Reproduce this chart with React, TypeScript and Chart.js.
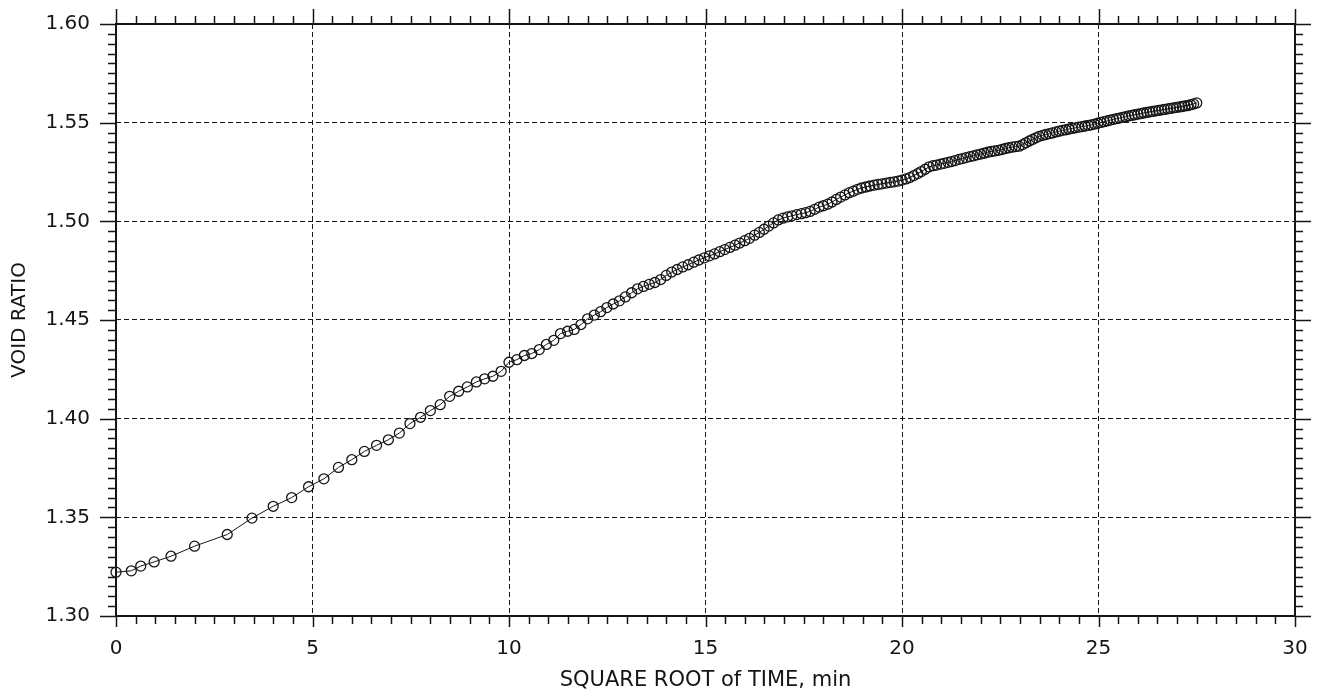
import React, { useEffect, useRef } from "react";
import { Chart, registerables } from "chart.js";

Chart.register(...registerables);

// square root of elapsed time (sqrt min)
const sqrtTime: number[] = [
  0, 0.39, 0.63, 0.97, 1.4,
  2.0, 2.83, 3.46, 4.0, 4.47, 4.9, 5.29, 5.66, 6.0, 6.32,
  6.63, 6.93, 7.21, 7.48, 7.75, 8.0, 8.25, 8.49, 8.72, 8.94,
  9.17, 9.38, 9.59, 9.8, 10.0, 10.2, 10.39, 10.58, 10.77, 10.95,
  11.14, 11.31, 11.49, 11.66,
  11.83, 12.0, 12.17, 12.33, 12.49, 12.65, 12.81, 12.96, 13.12, 13.27,
  13.42, 13.57, 13.71, 13.86, 14.0, 14.14, 14.28, 14.42, 14.56, 14.7,
  14.83, 14.97, 15.1, 15.23, 15.36, 15.49, 15.62, 15.75, 15.87, 16.0,
  16.12, 16.25, 16.37, 16.49, 16.61, 16.73, 16.85, 16.97, 17.09, 17.2,
  17.32, 17.44, 17.55, 17.66, 17.78, 17.89, 18.0, 18.11, 18.22, 18.33,
  18.44, 18.55, 18.66, 18.76, 18.87, 18.97, 19.08, 19.18, 19.29, 19.39,
  19.49, 19.6, 19.7, 19.8, 19.9, 20.0, 20.1, 20.2, 20.3, 20.4,
  20.49, 20.59, 20.69, 20.79, 20.88, 20.98, 21.07, 21.17, 21.26, 21.35,
  21.45, 21.54, 21.63, 21.73, 21.82, 21.91, 22.0, 22.09, 22.18, 22.27,
  22.36, 22.45, 22.54, 22.63, 22.72, 22.8, 22.89, 22.98, 23.07, 23.15,
  23.24, 23.32, 23.41, 23.49, 23.58, 23.66, 23.75, 23.83, 23.92, 24.0,
  24.08, 24.17, 24.25, 24.33, 24.41, 24.49, 24.58, 24.66, 24.74, 24.82,
  24.9, 24.98, 25.06, 25.14, 25.22, 25.3, 25.38, 25.46, 25.53, 25.61,
  25.69, 25.77, 25.85, 25.92, 26.0, 26.08, 26.15, 26.23, 26.31, 26.38,
  26.46, 26.53, 26.61, 26.68, 26.76, 26.83, 26.91, 26.98, 27.06, 27.13,
  27.2, 27.28, 27.35, 27.42, 27.5,
];

const voidRatio: number[] = [
  1.3222, 1.3229, 1.3253, 1.3274, 1.3303,
  1.3354, 1.3413, 1.3496, 1.3556, 1.36, 1.3655, 1.3695, 1.3753, 1.3792, 1.3834,
  1.3865, 1.3893, 1.3927, 1.3975, 1.4007, 1.4041, 1.4071, 1.4113, 1.4139, 1.4161,
  1.4186, 1.4202, 1.4215, 1.424, 1.4286, 1.4299, 1.432, 1.433, 1.435, 1.4376,
  1.4397, 1.4431, 1.4443, 1.4452,
  1.4477, 1.4506, 1.4525, 1.4542, 1.4563, 1.4581, 1.4597, 1.4617, 1.4638, 1.4658,
  1.467, 1.4681, 1.469, 1.4705, 1.4726, 1.4743, 1.4756, 1.4769, 1.478, 1.4793,
  1.4804, 1.4815, 1.4825, 1.4835, 1.4846, 1.4857, 1.4868, 1.4879, 1.489, 1.4902,
  1.4914, 1.493, 1.4944, 1.496, 1.4976, 1.4992, 1.5007, 1.5016, 1.5023, 1.5028,
  1.5034, 1.5039, 1.5044, 1.505, 1.5061, 1.5072, 1.5079, 1.5087, 1.5098, 1.5111,
  1.5123, 1.5134, 1.5145, 1.5153, 1.5162, 1.5169, 1.5174, 1.5179, 1.5183, 1.5187,
  1.519, 1.5194, 1.5197, 1.52, 1.5204, 1.5209, 1.5215, 1.5222, 1.5232, 1.5242,
  1.5252, 1.5264, 1.5276, 1.5282, 1.5285, 1.529, 1.5294, 1.5299, 1.5303, 1.5308,
  1.5314, 1.5318, 1.5323, 1.5328, 1.5332, 1.5337, 1.5341, 1.5345, 1.535, 1.5354,
  1.5357, 1.536, 1.5364, 1.5369, 1.5373, 1.5376, 1.5379, 1.5381, 1.5389, 1.5398,
  1.5407, 1.5415, 1.5423, 1.5431, 1.5436, 1.544, 1.5444, 1.5448, 1.5453, 1.5457,
  1.5461, 1.5464, 1.5468, 1.5471, 1.5474, 1.5477, 1.548, 1.5483, 1.5486, 1.5489,
  1.5493, 1.5497, 1.5501, 1.5505, 1.5509, 1.5513, 1.5517, 1.552, 1.5523, 1.5527,
  1.553, 1.5534, 1.5537, 1.554, 1.5543, 1.5546, 1.5549, 1.5552, 1.5555, 1.5557,
  1.556, 1.5562, 1.5565, 1.5567, 1.557, 1.5572, 1.5575, 1.5577, 1.558, 1.5582,
  1.5585, 1.5587, 1.5591, 1.5595, 1.56,
];

const xMin = 0, xMax = 30, xMajor = 5, xMinor = 0.5;
const yMin = 1.3, yMax = 1.6, yMajor = 0.05, yMinor = 0.005;
const xTitle = "SQUARE ROOT of TIME, min";
const yTitle = "VOID RATIO";

const FONT = "'DejaVu Sans', sans-serif";
const INK = "#151515";

const framePlugin = {
  id: "frameTicks",
  afterDraw(chart: any) {
    const { ctx, chartArea } = chart;
    const xs = chart.scales.x;
    const ys = chart.scales.y;
    const { left, right, top, bottom } = chartArea;
    ctx.save();
    ctx.strokeStyle = INK;
    ctx.setLineDash([]);
    ctx.lineWidth = 1.5;
    const nx = Math.round((xMax - xMin) / xMinor);
    for (let i = 0; i <= nx; i++) {
      const v = xMin + i * xMinor;
      const px = Math.round(xs.getPixelForValue(v)) + 0.5;
      const major = i % Math.round(xMajor / xMinor) === 0;
      ctx.beginPath();
      ctx.moveTo(px, bottom);
      ctx.lineTo(px, bottom + (major ? 11 : 8));
      ctx.moveTo(px, top);
      ctx.lineTo(px, top - (major ? 15 : 8));
      ctx.stroke();
    }
    const ny = Math.round((yMax - yMin) / yMinor);
    for (let i = 0; i <= ny; i++) {
      const v = yMin + i * yMinor;
      const py = Math.round(ys.getPixelForValue(v)) + 0.5;
      const major = i % Math.round(yMajor / yMinor) === 0;
      ctx.beginPath();
      ctx.moveTo(left, py);
      ctx.lineTo(left - (major ? 16 : 8), py);
      ctx.moveTo(right, py);
      ctx.lineTo(right + (major ? 16 : 8), py);
      ctx.stroke();
    }
    ctx.lineWidth = 2;
    ctx.strokeRect(left, top, right - left, bottom - top);
    ctx.restore();
  },
};

export default function App() {
  const ref = useRef<HTMLCanvasElement | null>(null);

  useEffect(() => {
    if (!ref.current) return;
    const n = Math.min(sqrtTime.length, voidRatio.length);
    const pts = [];
    for (let i = 0; i < n; i++) pts.push({ x: sqrtTime[i], y: voidRatio[i] });

    const chart = new Chart(ref.current, {
      type: "line",
      data: {
        datasets: [
          {
            data: pts,
            borderColor: INK,
            borderWidth: 1,
            pointRadius: 5,
            pointHoverRadius: 5,
            pointBorderWidth: 1.3,
            pointBorderColor: INK,
            pointBackgroundColor: "rgba(0,0,0,0)",
            fill: false,
            tension: 0,
            clip: false,
          } as any,
        ],
      },
      options: {
        animation: false,
        responsive: true,
        maintainAspectRatio: false,
        layout: { padding: { top: 24, right: 28, left: 0, bottom: 0 } },
        plugins: { legend: { display: false }, tooltip: { enabled: false } },
        events: [],
        scales: {
          x: {
            type: "linear",
            min: xMin,
            max: xMax,
            afterFit: (s: any) => {
              s.height = 78;
              s.paddingLeft = 0;
              s.paddingRight = 0;
              s.paddingTop = 0;
              s.paddingBottom = 0;
            },
            ticks: {
              stepSize: xMajor,
              padding: 21,
              color: INK,
              font: { family: FONT, size: 20 },
              maxRotation: 0,
            },
            grid: {
              color: INK,
              lineWidth: 1,
              drawTicks: false,
            },
            border: { display: false, dash: [5, 3] },
            title: {
              display: true,
              text: xTitle,
              color: INK,
              font: { family: FONT, size: 21 },
              padding: { top: 0, bottom: 1 },
            },
          },
          y: {
            type: "linear",
            min: yMin,
            max: yMax,
            afterFit: (s: any) => {
              s.width = 116;
              s.paddingLeft = 0;
              s.paddingRight = 0;
              s.paddingTop = 0;
              s.paddingBottom = 0;
            },
            ticks: {
              stepSize: yMajor,
              padding: 26,
              color: INK,
              font: { family: FONT, size: 20 },
              callback: (v: any) => Number(v).toFixed(2),
            },
            grid: {
              color: INK,
              lineWidth: 1,
              drawTicks: false,
            },
            border: { display: false, dash: [5, 3] },
            title: {
              display: true,
              text: yTitle,
              color: INK,
              font: { family: FONT, size: 20 },
              padding: { top: 8, bottom: 0 },
            },
          },
        },
      },
      plugins: [framePlugin],
    });
    return () => chart.destroy();
  }, []);

  return (
    <div
      style={{
        position: "absolute",
        left: 0,
        top: 0,
        width: 1323,
        height: 694,
        background: "#fff",
      }}
    >
      <canvas ref={ref} />
    </div>
  );
}
